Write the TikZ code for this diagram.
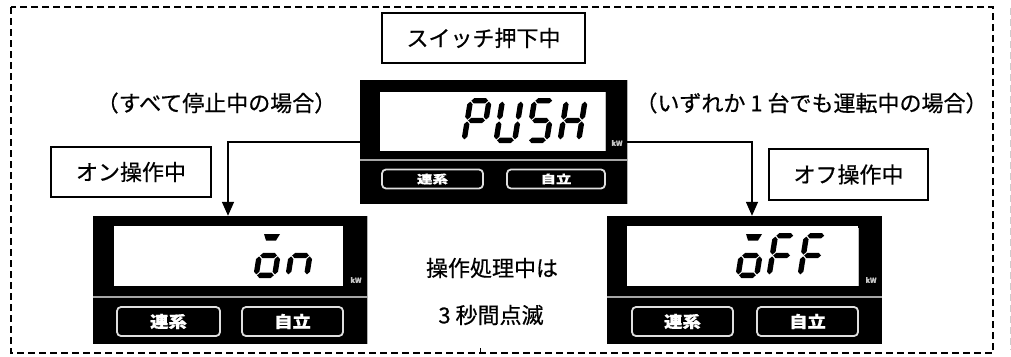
\documentclass[tikz,border=0pt]{standalone}
\usepackage{fontspec}
\usepackage{graphicx}
\setmainfont{Noto Sans CJK JP}[FakeBold=0.6]
\usetikzlibrary{arrows.meta}
\newcommand\SegH[3]{\fill (#1,#3) -- ({#1+2.7},{#3-2.7}) -- ({#2-2.7},{#3-2.7}) -- (#2,#3) -- ({#2-2.7},{#3+2.7}) -- ({#1+2.7},{#3+2.7}) -- cycle;}
\newcommand\SegV[3]{\fill (#1,#2) -- ({#1+2.7},{#2+2.7}) -- ({#1+2.7},{#3-2.7}) -- (#1,#3) -- ({#1-2.7},{#3-2.7}) -- ({#1-2.7},{#2+2.7}) -- cycle;}
\newcommand\segA{\SegH{3.6}{20.4}{-42.3}}
\newcommand\segG{\SegH{3.6}{20.4}{-22.5}}
\newcommand\segD{\SegH{3.6}{20.4}{-2.7}}
\newcommand\segF{\SegV{2.7}{-41.4}{-23.4}}
\newcommand\segE{\SegV{2.7}{-21.6}{-3.6}}
\newcommand\segB{\SegV{21.3}{-41.4}{-23.4}}
\newcommand\segC{\SegV{21.3}{-21.6}{-3.6}}
\newcommand\segBar{\fill (4,-44) -- (20,-44) -- (17,-37.5) -- (7,-37.5) -- cycle;}
\newcommand\sevdigit[3]{\begin{scope}[shift={(#1,#2)},xslant=0.16]#3\end{scope}}
\begin{document}
\begin{tikzpicture}[x=1pt,y=-1pt,
  panel/.style={fill=black,inner sep=0pt,draw=none},
  lcd/.style={fill=white},
  sep/.style={draw=gray!70,line width=2.5pt},
  btn/.style={fill=black,draw=gray!25,line width=1.8pt,rounded corners=4pt,text=white,inner sep=0pt,font=\bfseries},
  lbox/.style={draw=black,line width=1.2pt,inner sep=0pt,font=\fontsize{22}{26}\selectfont},
  lbl/.style={inner sep=0pt,font=\fontsize{22}{26}\selectfont},
  kw/.style={inner sep=0pt,text=gray!45,font=\bfseries\fontsize{7}{7}\selectfont},
  conn/.style={line width=1.5pt,-{Triangle[length=14pt,width=12pt]}}]
\useasboundingbox (0,0) rectangle (1011,356);
% outer frames
\draw[line width=1.3pt,dash pattern=on 7pt off 4pt] (11,7) rectangle (993,353);
\draw[gray!40,line width=1pt,dash pattern=on 7pt off 4pt] (1010,8) -- (1010,350);
\draw[line width=0.8pt] (480,348) -- (480,353);
% top display
\node[panel,minimum width=267pt,minimum height=124pt] (td) at (493.5,142) {};
\draw[gray!60,line width=1pt] (td.north east) -- (td.south east);
\fill[lcd] (380,92) rectangle (605,151);
\draw[gray!50,line width=0.8pt] (605,92) -- (605,151);
\draw[sep] (360,160) -- (627,160);
\node[btn,minimum width=101pt,minimum height=19pt] (tb1) at (432.5,179) {\fontsize{11.5}{11.5}\selectfont\scalebox{1.35}[1]{連系}};
\node[btn,minimum width=98pt,minimum height=19pt] (tb2) at (556,179) {\fontsize{11.5}{11.5}\selectfont\scalebox{1.35}[1]{自立}};
\node[kw] (tkw) at (617,143) {kW};
\sevdigit{461}{143}{\segA\segB\segE\segF\segG}
\sevdigit{493}{143}{\segB\segC\segD\segE\segF}
\sevdigit{525}{143}{\segA\segF\segG\segC\segD}
\sevdigit{557}{143}{\segB\segC\segE\segF\segG}
% left display
\node[panel,minimum width=274pt,minimum height=128pt] (ld) at (230,280) {};
\draw[gray!60,line width=1pt] (ld.north east) -- (ld.south east);
\fill[lcd] (114,226) rectangle (343,286);
\draw[sep] (93,297) -- (367,297);
\node[btn,minimum width=103pt,minimum height=29pt] (lb1) at (168.5,321.5) {\fontsize{16}{16}\selectfont\scalebox{1.15}[1]{連系}};
\node[btn,minimum width=101pt,minimum height=29pt] (lb2) at (292.5,321.5) {\fontsize{16}{16}\selectfont\scalebox{1.15}[1]{自立}};
\node[kw] (lkw) at (356,280) {kW};
\sevdigit{253}{278}{\segBar\segC\segD\segE\segG}
\sevdigit{285}{278}{\segC\segE\segG}
% right display
\node[panel,minimum width=275pt,minimum height=128pt] (rd) at (744.5,280) {};
\fill[lcd] (627,226) rectangle (858,286);
\draw[gray!50,line width=0.8pt] (858,228) -- (858,286);
\draw[sep] (607,297) -- (882,297);
\node[btn,minimum width=101pt,minimum height=29pt] (rb1) at (682.5,321.5) {\fontsize{16}{16}\selectfont\scalebox{1.15}[1]{連系}};
\node[btn,minimum width=101pt,minimum height=29pt] (rb2) at (807.5,321.5) {\fontsize{16}{16}\selectfont\scalebox{1.15}[1]{自立}};
\node[kw] (rkw) at (871,280) {kW};
\sevdigit{735}{278}{\segBar\segC\segD\segE\segG}
\sevdigit{766}{278}{\segA\segE\segF\segG}
\sevdigit{797}{278}{\segA\segE\segF\segG}
% labels
\node[lbox,minimum width=203pt,minimum height=50pt] (sw) at (483.5,38) {スイッチ押下中};
\node[lbox,minimum width=160pt,minimum height=50pt] (on) at (131,172) {オン操作中};
\node[lbox,minimum width=159pt,minimum height=51pt] (off) at (848.5,174.5) {オフ操作中};
\node[lbl] (ls) at (216.5,103) {（すべて停止中の場合）};
\node[lbl] (rs) at (811.5,103) {（いずれか 1 台でも運転中の場合）};
\node[lbl] (c1) at (492,268) {操作処理中は};
\node[lbl] (c2) at (491,315) {3 秒間点滅};
% connectors
\draw[conn] (td.west) -| ([xshift=-2pt]ld.north);
\draw[conn] (td.east) -| ([xshift=7.5pt]rd.north);
\end{tikzpicture}
\end{document}
